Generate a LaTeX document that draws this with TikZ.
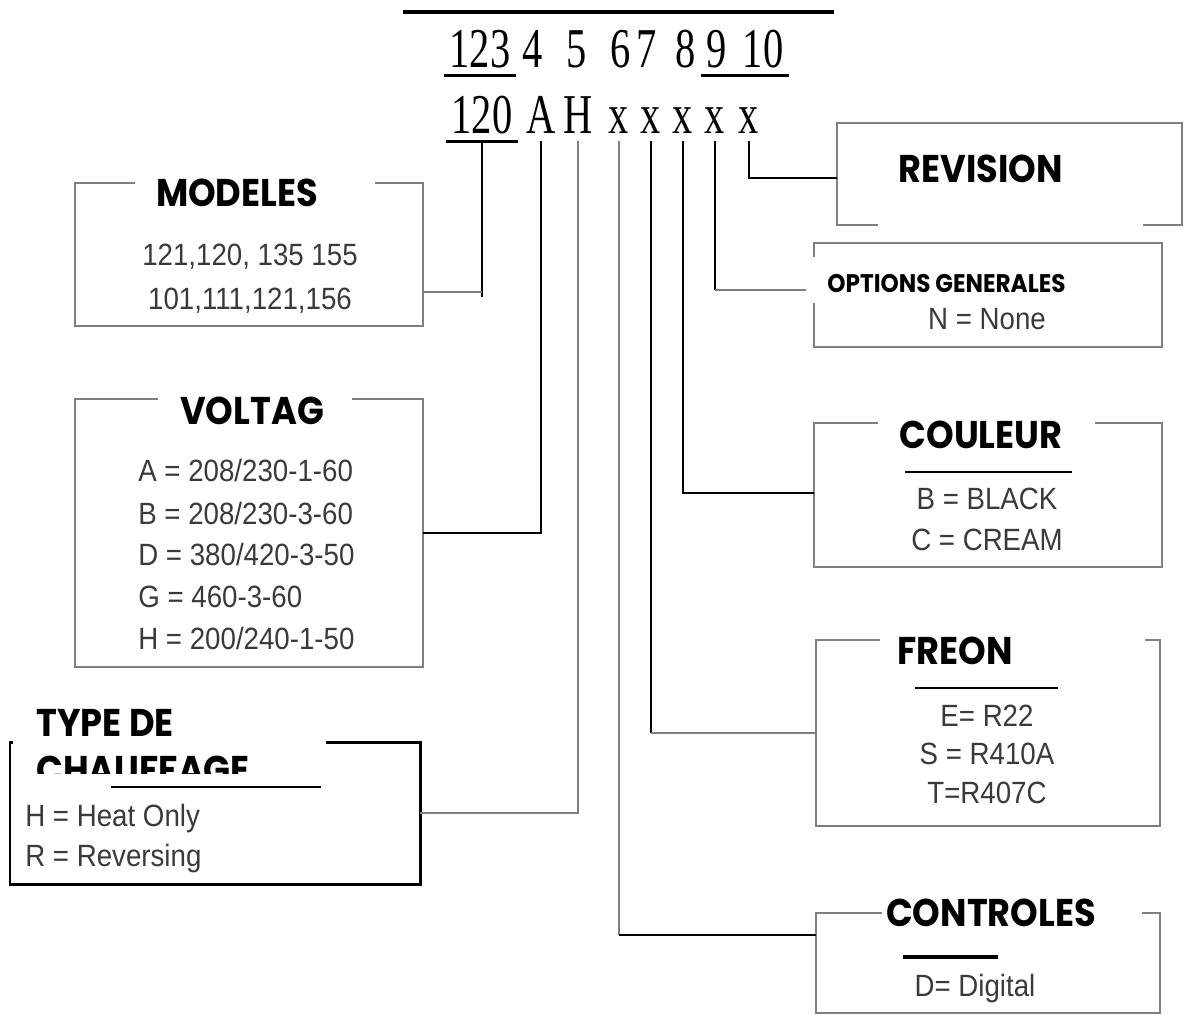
\documentclass[tikz,border=0pt]{standalone}
\usepackage{fontspec}
\setmainfont{Liberation Sans}
\newfontfamily\headfont{Poppins}[FakeStretch=0.91]
\newfontfamily\entryfont{Liberation Sans}[FakeStretch=0.9]
\newfontfamily\codefont{Liberation Serif}[FakeStretch=0.72]
\definecolor{ink}{HTML}{3A3A3A}
\definecolor{edge}{HTML}{7F7F7F}
\tikzset{
  heavy/.style={line width=1.6pt, black},
  light/.style={line width=0.9pt, edge},
  panel/.style 2 args={draw=edge, line width=1.1pt, minimum width=#1*0.02cm, minimum height=#2*0.02cm, inner sep=0pt, outer sep=0pt},
  mask/.style 2 args={fill=white, minimum width=#1*0.02cm, minimum height=#2*0.02cm, inner sep=0pt},
  head/.style={font=\headfont\bfseries\fontsize{22}{26}\selectfont, inner sep=0pt, text height=16pt, text depth=0pt},
  subhead/.style={head, font=\headfont\bfseries\fontsize{14.5}{17}\selectfont, text height=10.5pt},
  entry/.style={font=\entryfont\fontsize{17.5}{21}\selectfont, text=ink, inner sep=0pt, text height=12.5pt, text depth=0pt},
  code/.style={font=\codefont\fontsize{32}{32}\selectfont, inner xsep=3pt, inner ysep=4.5pt, anchor=base},
}
\begin{document}
\begin{tikzpicture}[x=0.02cm, y=-0.02cm]
    \useasboundingbox (0,0) rectangle (1185,1019);

    % Boxes
    \node[panel={348}{143}] (modeles) at (249,254.5) {};
    \node[panel={348}{268}] (voltag) at (249,533) {};
    \node[panel={410}{142}, draw=black, line width=1.7pt] (chauffage) at (215,813) {};
    \node[panel={345}{102}] (revision) at (1009.5,174) {};
    \node[panel={348}{104}] (options) at (988,295) {};
    \node[panel={348}{144}] (couleur) at (988,495) {};
    \node[panel={344}{186}] (freon) at (988,733) {};
    \node[panel={344}{100}] (controles) at (988,963) {};

    % Code rows
    \draw[line width=2.3pt] (403,12) -- (834,12);
    \foreach \t/\x in {123/480, 4/533, 5/577, 6/621, 7/647, 8/686, 9/717, 10/763} {
        \node[code] (p\t) at (\x,67) {\t};
    }
    \draw[line width=1.7pt] (p123.south west) -- (p123.south east);
    \draw[line width=1.7pt] (p9.south west) -- (p10.south east);

    \node[code] (c120) at (482,133) {120};
    \node[code] (cA) at (541,133) {A};
    \node[code] (cH) at (578,133) {H};
    \foreach \i/\x in {1/619, 2/651, 3/683, 4/715, 5/749} {
        \node[code] (cx\i) at (\x,133) {x};
    }
    \draw[line width=1.9pt] (c120.south west) -- (c120.south east);

    % Connectors
    \draw[heavy] (c120.south) -- (c120.south |- 0,297);
    \draw[light] (modeles.east |- 0,292) -- (c120.south |- 0,292);
    \draw[heavy] (cA.south) |- (voltag.east |- 0,533);
    \draw[light] (cH.south) |- (chauffage.east);
    \draw[light] (cx1.south) -- (cx1.south |- 0,935);
    \draw[heavy] (cx1.south |- 0,935) -- (controles.west |- 0,935);
    \draw[heavy] (cx2.south) -- (cx2.south |- 0,733);
    \draw[light] (cx2.south |- 0,733) -- (freon.west);
    \draw[heavy] (cx3.south) |- (couleur.west |- 0,493);
    \draw[heavy] (cx4.south) -- (cx4.south |- 0,290);
    \draw[light] (cx4.south |- 0,290) -- (options.west |- 0,290);
    \draw[heavy] (cx5.south) |- (revision.west |- 0,178);

    % Title masks
    \node[mask={240}{72}] (modelesM) at (255,196) {};
    \node[mask={194}{68}] (voltagM) at (255,414) {};
    \node[mask={313}{83}] (chauffageM) at (169.5,731.5) {};
    \node[mask={265}{99}] (revisionM) at (1010.5,182.5) {};
    \node[mask={337}{46}] (optionsM) at (974.5,280) {};
    \node[mask={217}{65}] (couleurM) at (986.5,437.5) {};
    \node[mask={265}{66}] (freonM) at (1012.5,653) {};
    \node[mask={260}{68}] (controlesM) at (1012,914) {};

    % Titles
    \node[head] (modelesT) at (237,192) {MODELES};
    \node[head] (voltagT) at (252,410) {VOLTAG};
    \begin{scope}
        \clip (0,680) rectangle (330,773);
        \node[head, anchor=west] (chauffageT1) at (36,722) {TYPE DE};
        \node[head, anchor=west] (chauffageT2) at (36,769) {CHAUFFAGE};
    \end{scope}
    \node[head] (revisionT) at (981,168) {REVISION};
    \node[subhead, anchor=west] (optionsT) at (827,283) {OPTIONS GENERALES};
    \node[head] (couleurT) at (981,434) {COULEUR};
    \node[head] (freonT) at (955,650) {FREON};
    \node[head] (controlesT) at (991,912) {CONTROLES};

    % Rules under titles
    \draw[line width=1.5pt] (111,787) -- (321,787);
    \draw[line width=0.8pt] (905,472) -- (1072,472);
    \draw[line width=0.8pt] (915,688) -- (1058,688);
    \draw[line width=2pt] (903,957) -- (998,957);

    % Entries
    \node[entry] (modeles1) at (250,255) {121,120, 135 155};
    \node[entry] (modeles2) at (250,299) {101,111,121,156};
    \foreach \t/\y [count=\i] in {{A = 208/230-1-60}/471, {B = 208/230-3-60}/513, {D = 380/420-3-50}/554, {G = 460-3-60}/596, {H = 200/240-1-50}/638} {
        \node[entry, anchor=west] (voltag\i) at (138,\y) {\t};
    }
    \node[entry, anchor=west] (chauffage1) at (25,815) {H = Heat Only};
    \node[entry, anchor=west] (chauffage2) at (25,855) {R = Reversing};
    \node[entry] (options1) at (987,319) {N = None};
    \node[entry] (couleur1) at (987,499) {B = BLACK};
    \node[entry] (couleur2) at (987,539) {C = CREAM};
    \node[entry] (freon1) at (987,715) {E= R22};
    \node[entry] (freon2) at (987,753) {S = R410A};
    \node[entry] (freon3) at (987,792) {T=R407C};
    \node[entry] (controles1) at (975,985) {D= Digital};
\end{tikzpicture}
\end{document}
